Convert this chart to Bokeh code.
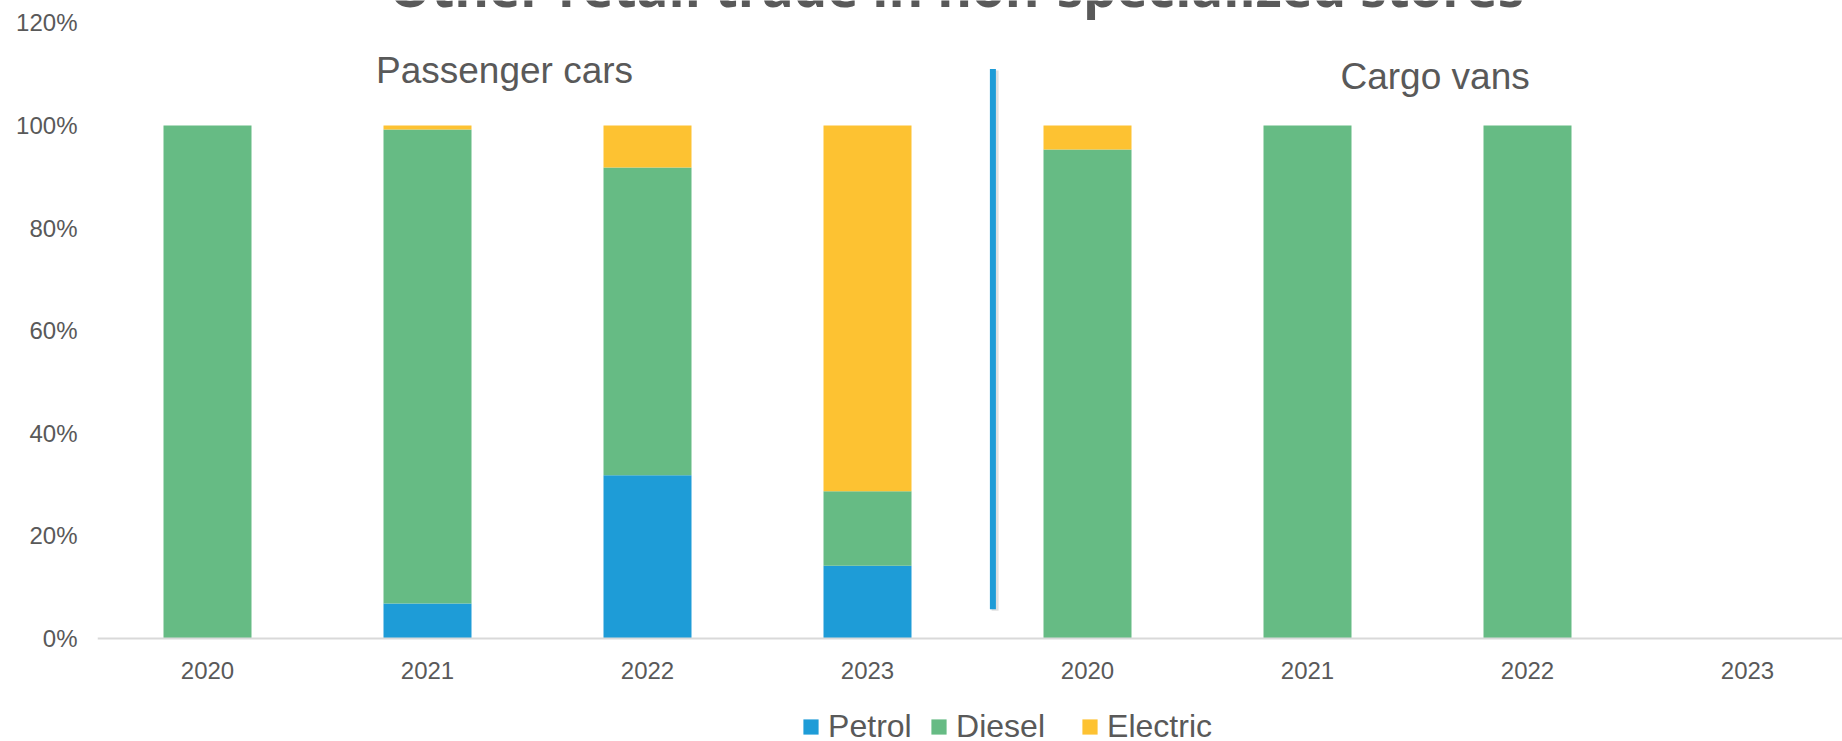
import numpy as np
from bokeh.plotting import figure
from bokeh.models import ColumnDataSource, Range1d, FixedTicker, Legend, LegendItem, Label
from bokeh.core.properties import value
from bokeh.embed import file_html
from bokeh.resources import INLINE

# ---- data ----
title_text = "Other retail trade in non-specialized stores"
groups = ["Passenger cars"] * 4 + ["Cargo vans"] * 4
years = ["2020", "2021", "2022", "2023", "2020", "2021", "2022", "2023"]
petrol = [0.0, 6.8, 31.8, 14.2, 0.0, 0.0, 0.0, 0.0]
diesel = [100.0, 92.4, 60.0, 14.5, 95.3, 100.0, 100.0, 0.0]
electric = [0.0, 0.8, 8.2, 71.3, 4.7, 0.0, 0.0, 0.0]
series = ["Petrol", "Diesel", "Electric"]
y_ticks = [0, 20, 40, 60, 80, 100, 120]
y_tick_labels = ["0%", "20%", "40%", "60%", "80%", "100%", "120%"]
group_labels = ["Passenger cars", "Cargo vans"]

# ---- styling ----
colors = ["#1E9CD7", "#66BB84", "#FDC232"]
text_color = "#595959"
font = "Liberation Sans"

W, H = 1842, 741
left_b = 97
unit_px = 220.0
frame_w = W - left_b
px_per_pct = 615.6 / 120.0
zero_px = 638.0

x_pos = [i + 0.5 for i in range(len(years))]
source = ColumnDataSource(dict(x=x_pos, Petrol=petrol, Diesel=diesel, Electric=electric))

p = figure(width=W, height=H, output_backend="svg", toolbar_location=None,
           x_range=Range1d(0, frame_w / unit_px),
           y_range=Range1d(-(H - zero_px) / px_per_pct, zero_px / px_per_pct),
           min_border_left=left_b, min_border_right=0, min_border_top=0,
           min_border_bottom=0)
p.outline_line_color = None
p.xgrid.visible = False
p.ygrid.visible = False
p.background_fill_color = "white"
p.border_fill_color = "white"

renderers = p.vbar_stack(series, x="x", width=0.40, source=source,
                         color=colors, line_color=None)

# axes
p.xaxis.fixed_location = 0
p.xaxis.ticker = FixedTicker(ticks=x_pos)
p.xaxis.major_label_overrides = {x: y for x, y in zip(x_pos, years)}
p.xaxis.axis_line_color = "#D9D9D9"
p.xaxis.axis_line_width = 2
p.xaxis.major_tick_line_color = None
p.xaxis.minor_tick_line_color = None
p.xaxis.major_tick_out = 0
p.xaxis.major_label_standoff = 23
p.xaxis.major_label_text_font = font
p.xaxis.major_label_text_font_size = "24px"
p.xaxis.major_label_text_color = text_color

p.yaxis.ticker = FixedTicker(ticks=y_ticks)
p.yaxis.major_label_overrides = {t: l for t, l in zip(y_ticks, y_tick_labels)}
p.yaxis.axis_line_color = None
p.yaxis.major_tick_line_color = None
p.yaxis.minor_tick_line_color = None
p.yaxis.major_tick_out = 0
p.yaxis.major_label_standoff = 20
p.yaxis.major_label_text_font = font
p.yaxis.major_label_text_font_size = "24px"
p.yaxis.major_label_text_color = text_color

# divider line between the two groups (with faint shadow)
p.segment(x0=[4.08], y0=[5.4], x1=[4.08], y1=[110.7], line_color="#000000",
          line_alpha=0.12, line_width=7)
p.segment(x0=[4.07], y0=[5.7], x1=[4.07], y1=[111.0], line_color="#1E9CD7",
          line_width=6)

# group labels
p.text(x=[1.85, 6.08], y=[110.7, 109.6], text=group_labels,
       text_font=value(font), text_font_size="37px", text_color=text_color,
       text_align="center", text_baseline="alphabetic")

# title (cut off at top, as in the reference)
p.add_layout(Label(x=859, y=H + 14, x_units="screen", y_units="screen", text=title_text,
                   text_font="Open Sans", text_font_style="bold", text_font_size="53px",
                   text_color=text_color, text_align="center", text_baseline="alphabetic"))

# legends, one per series, positioned individually
sq_left = [803, 931, 1082]
for r, name, sx in zip(renderers, series, sq_left):
    leg = Legend(items=[LegendItem(label=name, renderers=[r])],
                 location=(sx - 1.9 - left_b, -4), orientation="horizontal",
                 glyph_width=19, glyph_height=19, label_standoff=8,
                 padding=0, margin=0, spacing=0,
                 border_line_color=None, background_fill_alpha=0,
                 label_text_font=font, label_text_font_size="32px",
                 label_text_color=text_color)
    p.add_layout(leg)

open("out.html", "w").write(file_html(p, INLINE))
